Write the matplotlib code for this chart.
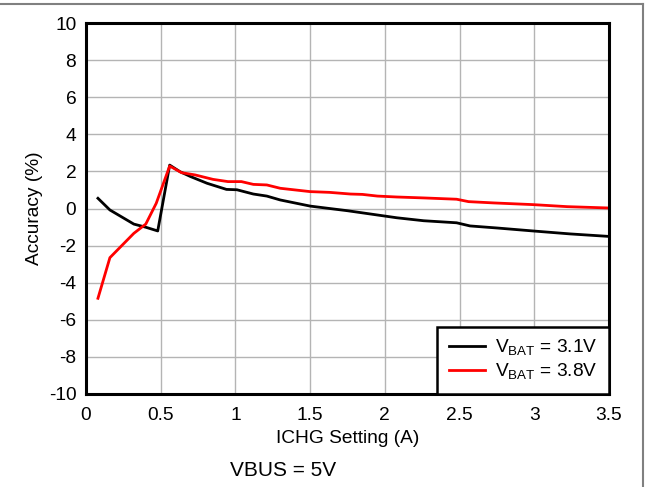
import matplotlib
matplotlib.use("Agg")
import matplotlib.pyplot as plt
from matplotlib.lines import Line2D

plt.rcParams["font.family"] = ["Liberation Sans", "DejaVu Sans"]
plt.rcParams["mathtext.fontset"] = "custom"
plt.rcParams["mathtext.rm"] = "Liberation Sans"
plt.rcParams["axes.unicode_minus"] = False

# VBAT = 3.1V
x_31 = [0.08, 0.16, 0.32, 0.40, 0.48, 0.56, 0.63, 0.70, 0.81, 0.94, 1.01, 1.12,
        1.21, 1.30, 1.50, 1.75, 1.95, 2.08, 2.26, 2.48, 2.57, 2.75, 2.99, 3.24, 3.49]
y_31 = [0.55, -0.08, -0.84, -1.01, -1.21, 2.34, 1.98, 1.72, 1.36, 1.03, 1.01, 0.78,
        0.67, 0.46, 0.13, -0.12, -0.35, -0.50, -0.66, -0.77, -0.94, -1.05, -1.21, -1.37, -1.50]

# VBAT = 3.8V
x_38 = [0.08, 0.16, 0.32, 0.40, 0.47, 0.56, 0.64, 0.73, 0.85, 0.95, 1.04, 1.12,
        1.21, 1.30, 1.50, 1.63, 1.77, 1.85, 1.95, 2.08, 2.26, 2.48, 2.56, 2.73, 2.99, 3.22, 3.49]
y_38 = [-4.84, -2.65, -1.34, -0.84, 0.28, 2.29, 1.93, 1.81, 1.57, 1.45, 1.45, 1.30,
        1.27, 1.09, 0.91, 0.87, 0.78, 0.76, 0.67, 0.62, 0.57, 0.50, 0.37, 0.30, 0.21, 0.10, 0.03]

x_ticks = [0, 0.5, 1, 1.5, 2, 2.5, 3, 3.5]
x_ticklabels = ["0", "0.5", "1", "1.5", "2", "2.5", "3", "3.5"]
y_ticks = list(range(-10, 11, 2))

FS = 13.8

fig = plt.figure(figsize=(6.56, 4.87), dpi=100)
ax = fig.add_axes([86 / 656, 1 - 394 / 487, (609 - 86) / 656, (394 - 23) / 487])

ax.plot(x_31, y_31, color="black", lw=2.0, label=r"V$_{\mathrm{BAT}}$ = 3.1V")
ax.plot(x_38, y_38, color="#ff0000", lw=2.0, label=r"V$_{\mathrm{BAT}}$ = 3.8V")

ax.set_xlim(0, 3.5)
ax.set_ylim(-10, 10)
ax.set_xticks(x_ticks)
ax.set_xticklabels(x_ticklabels)
ax.set_yticks(y_ticks)
ax.tick_params(length=0, labelsize=FS)
ax.tick_params(axis="x", pad=9)
ax.tick_params(axis="y", pad=7)
ax.grid(True, color="#b4b4b4", lw=1.0)
ax.set_axisbelow(True)
for s in ax.spines.values():
    s.set_linewidth(2.2)
    s.set_color("black")

ax.set_xlabel("ICHG Setting (A)", fontsize=FS)
ax.set_ylabel("Accuracy (%)", fontsize=FS)
ax.xaxis.set_label_coords(0.5, -0.097)
ax.yaxis.set_label_coords(-0.083, 0.5)

leg = ax.legend(loc="lower right", fontsize=FS, frameon=True, fancybox=False,
                borderaxespad=0, handlelength=1.9, labelspacing=0.2,
                borderpad=0.6, handletextpad=0.5)
leg.get_frame().set_edgecolor("black")
leg.get_frame().set_linewidth(1.8)
leg.get_frame().set_alpha(1)

fig.text(230 / 656, 1 - 470 / 487, "VBUS = 5V", fontsize=15, va="center", ha="left")

# grey outer frame (top and right edges visible)
fig.add_artist(Line2D([0, 643 / 656], [1 - 4 / 487, 1 - 4 / 487], color="#808080", lw=1.5,
                      transform=fig.transFigure))
fig.add_artist(Line2D([643 / 656, 643 / 656], [0, 1 - 4 / 487], color="#808080", lw=1.5,
                      transform=fig.transFigure))

fig.savefig("out.png", dpi=100)
